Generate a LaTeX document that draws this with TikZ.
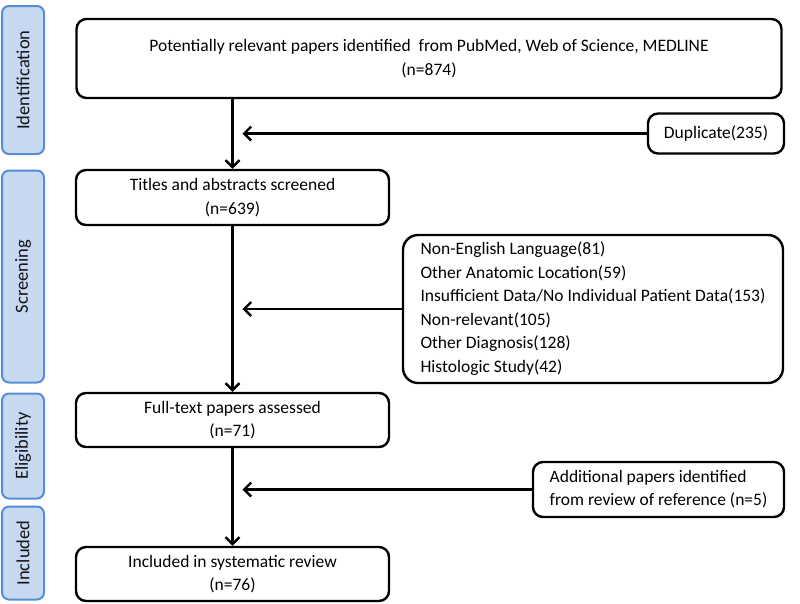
\documentclass[tikz,border=0pt]{standalone}
\usepackage{fontspec}
\setmainfont{Carlito}
\usetikzlibrary{arrows.meta}
\begin{document}
\begin{tikzpicture}[x=1pt,y=-1pt,
  box/.style={draw=black,line width=2.4pt,rounded corners=10pt,align=center,inner sep=0pt,font=\fontsize{17.5}{23.5}\selectfont},
  stage/.style={draw={rgb,255:red,85;green,142;blue,213},fill={rgb,255:red,198;green,217;blue,241},line width=2pt,rounded corners=7pt,inner sep=0pt,minimum width=42pt},
  stagetxt/.style={rotate=90,font=\fontsize{18.5}{22}\selectfont,text={rgb,255:red,20;green,20;blue,20}},
  arr/.style={line width=2.4pt,-{Straight Barb[length=7pt,width=14pt,line width=2.4pt]}},
  ln/.style={line width=2.4pt}]
\useasboundingbox (0,0) rectangle (800,603);
% stage boxes
\node[stage,minimum height=148pt] (sid) at (23,80) {};
\node[stagetxt] at (sid.center) {Identification};
\node[stage,minimum height=212pt] (ssc) at (23,276.5) {};
\node[stagetxt] at (ssc.center) {Screening};
\node[stage,minimum height=105pt] (sel) at (23,446) {};
\node[stagetxt] at (sel.center) {Eligibility};
\node[stage,minimum height=93pt] (sin) at (23,553) {};
\node[stagetxt] at (sin.center) {Included};
% main boxes
\node[box,minimum width=705pt,minimum height=79pt] (b1) at (429,58.5) {Potentially relevant papers identified\ \ from PubMed, Web of Science, MEDLINE\\(n=874)};
\node[box,minimum width=313pt,minimum height=55pt] (b2) at (232.5,197.5) {Titles and abstracts screened\\(n=639)};
\node[box,minimum width=313pt,minimum height=54pt] (b3) at (232.5,420) {Full-text papers assessed\\(n=71)};
\node[box,minimum width=313pt,minimum height=54pt] (b4) at (232.5,574) {Included in systematic review\\(n=76)};
% side boxes
\node[box,minimum width=136pt,minimum height=40pt] (dup) at (716,133.5) {Duplicate(235)};
\node[box,rounded corners=15pt,minimum width=380pt,minimum height=148pt] (exc) at (593,309) {\begin{tabular}{@{}l@{}}Non-English Language(81)\\Other Anatomic Location(59)\\Insufficient Data/No Individual Patient Data(153)\\Non-relevant(105)\\Other Diagnosis(128)\\Histologic Study(42)\end{tabular}};
\node[box,minimum width=251pt,minimum height=55pt] (add) at (658.5,489.5) {\begin{tabular}{@{}l@{}}Additional papers identified\\from review of reference (n=5)\end{tabular}};
% connectors
\draw[arr] (b1.south) ++(-196.5,0) coordinate (s1) -- (b2.north);
\coordinate (t1) at ([xshift=10pt]b2.north |- dup.west);
\draw[arr] (dup.west) -- (t1);
\draw[arr] (b2.south) -- (b3.north);
\coordinate (t2) at ([xshift=10pt]b2.north |- exc.west);
\draw[arr] (exc.west) -- (t2);
\draw[arr] (b3.south) -- (b4.north);
\coordinate (t3) at ([xshift=10pt]b2.north |- add.west);
\draw[arr] (add.west) -- (t3);
\end{tikzpicture}
\end{document}
